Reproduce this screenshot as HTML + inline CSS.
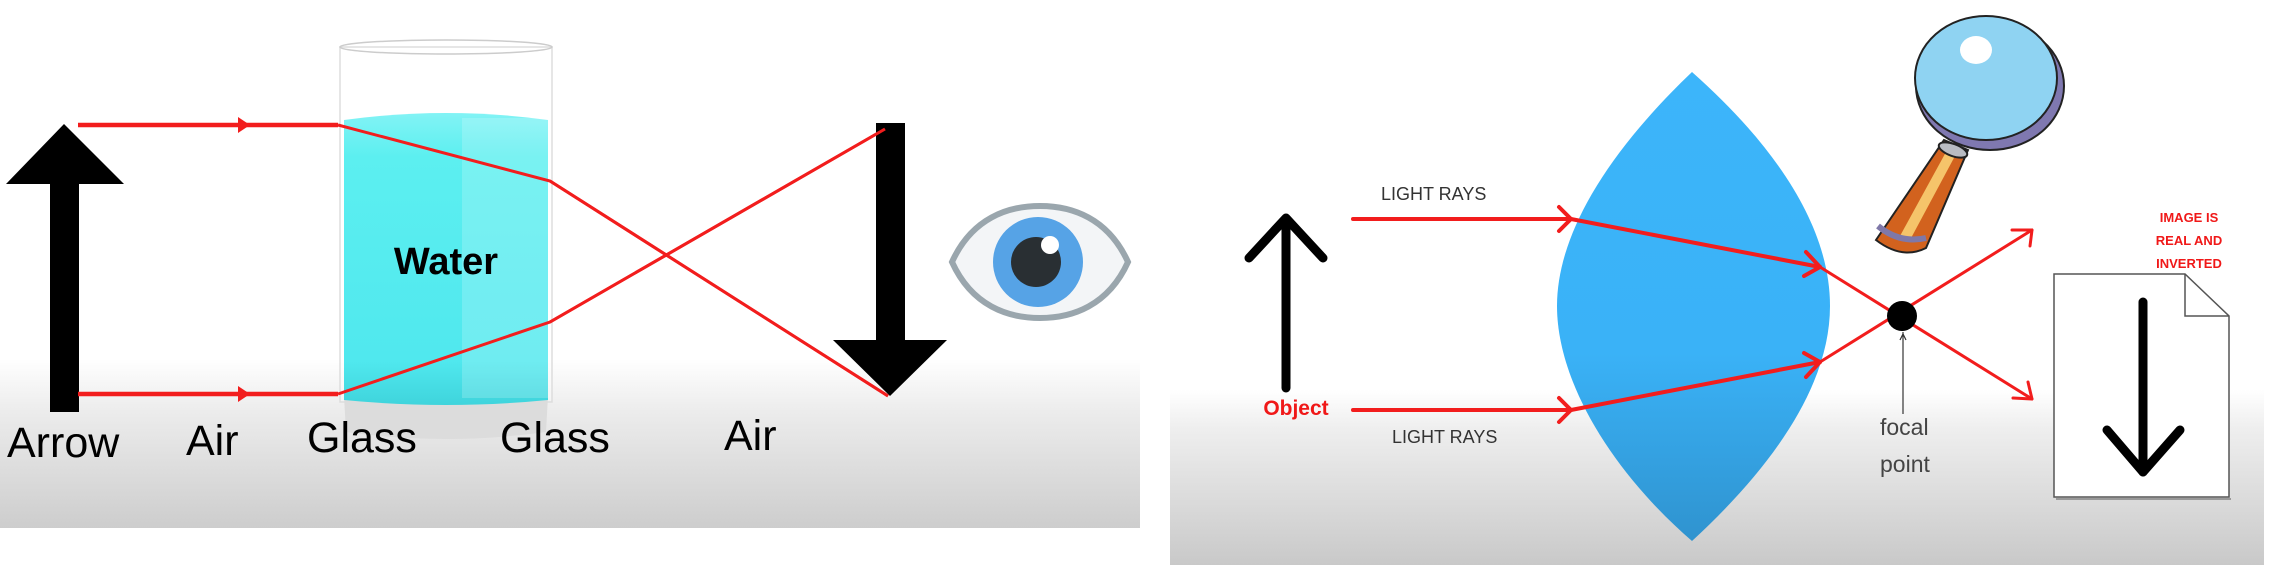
<!DOCTYPE html>
<html><head><meta charset="utf-8"><style>
html,body{margin:0;padding:0;background:#fff;width:2280px;height:574px;overflow:hidden}
svg{display:block}
</style></head><body>
<svg width="2280" height="574" viewBox="0 0 2280 574" xmlns="http://www.w3.org/2000/svg">
<defs>
<linearGradient id="bgL" x1="0" y1="0" x2="0" y2="1">
<stop offset="0" stop-color="#fff"/><stop offset="0.68" stop-color="#fff"/><stop offset="0.78" stop-color="#ececec"/><stop offset="1" stop-color="#cdcdcd"/>
</linearGradient>
<linearGradient id="bgR" x1="0" y1="0" x2="0" y2="1">
<stop offset="0" stop-color="#fff"/><stop offset="0.69" stop-color="#fff"/><stop offset="0.76" stop-color="#eeeeee"/><stop offset="1" stop-color="#c9c9c9"/>
</linearGradient>
<linearGradient id="lens" x1="0" y1="0" x2="0" y2="1">
<stop offset="0" stop-color="#3cb5fa"/><stop offset="0.6" stop-color="#3ab2f7"/><stop offset="1" stop-color="#2f93cf"/>
</linearGradient>
<linearGradient id="water" x1="0" y1="0" x2="0" y2="1">
<stop offset="0" stop-color="#82f3f5"/><stop offset="0.15" stop-color="#5ceff0"/><stop offset="0.85" stop-color="#50e8ee"/><stop offset="1" stop-color="#3fd4dc"/>
</linearGradient>
</defs>
<!-- Left panel -->
<rect x="0" y="0" width="1140" height="528" fill="url(#bgL)"/>
<rect x="340" y="47" width="212" height="355" fill="#fff" fill-opacity="0.3" stroke="#ddd" stroke-width="1.5"/>
<ellipse cx="446" cy="47" rx="106" ry="7" fill="none" stroke="#ccc" stroke-width="1.5"/>
<path d="M344 396 L548 396 L546 432 Q446 446 346 432 Z" fill="#dcdcdc"/>
<path d="M344 120 Q446 106 548 120 L548 400 Q446 410 344 400 Z" fill="url(#water)"/>
<rect x="462" y="118" width="86" height="280" fill="#fff" fill-opacity="0.18"/>
<text x="446" y="274" font-family="Liberation Sans, sans-serif" font-size="38" font-weight="bold" text-anchor="middle" fill="#000">Water</text>
<rect x="50" y="180" width="29" height="232" fill="#000"/>
<polygon points="64,124 124,184 6,184" fill="#000"/>
<g stroke="#f21d1d" fill="none">
<line x1="78" y1="125" x2="338" y2="125" stroke-width="4.5"/>
<line x1="78" y1="394" x2="338" y2="394" stroke-width="4.5"/>
<polyline points="338,125 550,181 888,396" stroke-width="3"/>
<polyline points="338,394 550,322 885,129" stroke-width="3"/>
</g>
<polygon points="238,117 250,125 238,133" fill="#f21d1d"/>
<polygon points="238,386 250,394 238,402" fill="#f21d1d"/>
<rect x="876" y="123" width="29" height="220" fill="#000"/>
<polygon points="833,340 947,340 890,396" fill="#000"/>
<line x1="550" y1="322" x2="885" y2="129" stroke="#f21d1d" stroke-width="3"/>
<line x1="550" y1="181" x2="888" y2="396" stroke="#f21d1d" stroke-width="3"/>
<!-- eye -->
<path d="M952 262 C972 218 1008 206 1040 206 C1072 206 1108 218 1128 262 C1108 306 1072 318 1040 318 C1008 318 972 306 952 262 Z" fill="#f3f5f7" stroke="#9aa6ad" stroke-width="6"/>
<circle cx="1038" cy="262" r="45" fill="#56a3e6"/>
<circle cx="1036" cy="262" r="25" fill="#292f33"/>
<circle cx="1050" cy="245" r="9" fill="#fff"/>
<g font-family="Liberation Sans, sans-serif" font-size="43" fill="#000">
<text x="7" y="457">Arrow</text>
<text x="186" y="455">Air</text>
<text x="307" y="452">Glass</text>
<text x="500" y="452">Glass</text>
<text x="724" y="450">Air</text>
</g>

<!-- Right panel -->
<rect x="1170" y="0" width="1094" height="565" fill="url(#bgR)"/>
<path d="M1692 72 C1600 160 1557 240 1557 306 C1557 380 1610 470 1692 541 C1780 460 1830 380 1830 306 C1830 230 1780 150 1692 72 Z" fill="url(#lens)"/>
<g stroke="#000" stroke-width="9" fill="none" stroke-linecap="round" stroke-linejoin="round">
<line x1="1286" y1="222" x2="1286" y2="388"/>
<polyline points="1249,258 1286,218 1323,258"/>
</g>
<text x="1296" y="415" font-family="Liberation Sans, sans-serif" font-size="21" font-weight="bold" fill="#f01818" text-anchor="middle">Object</text>
<g font-family="Liberation Sans, sans-serif" font-size="18" fill="#333">
<text x="1381" y="200">LIGHT RAYS</text>
<text x="1392" y="443">LIGHT RAYS</text>
</g>
<g stroke="#f21d1d" fill="none" stroke-width="4" stroke-linecap="round" stroke-linejoin="round">
<line x1="1353" y1="219" x2="1571" y2="219"/>
<line x1="1353" y1="410" x2="1571" y2="410"/>
<polyline points="1559,207 1571,219 1559,231"/>
<polyline points="1559,398 1571,410 1559,422"/>
<line x1="1571" y1="219" x2="1820" y2="267"/>
<line x1="1571" y1="410" x2="1820" y2="362"/>
<polyline points="1806,252 1820,267 1804,276"/>
<polyline points="1804,353 1820,362 1806,377"/>
</g>
<g stroke="#f21d1d" fill="none" stroke-width="3" stroke-linecap="round" stroke-linejoin="round">
<line x1="1820" y1="267" x2="2032" y2="399"/>
<line x1="1820" y1="362" x2="2032" y2="230"/>
<polyline points="2012,230 2032,230 2030,246"/>
<polyline points="2028,382 2032,399 2013,398"/>
</g>
<circle cx="1902" cy="316" r="15" fill="#000"/>
<line x1="1903" y1="332" x2="1903" y2="414" stroke="#333" stroke-width="1.2"/>
<polyline points="1900,340 1903,334 1906,340" stroke="#333" fill="none" stroke-width="1.2"/>
<g font-family="Liberation Sans, sans-serif" font-size="23" fill="#444">
<text x="1880" y="435">focal</text>
<text x="1880" y="472">point</text>
</g>
<g font-family="Liberation Sans, sans-serif" font-size="13" font-weight="bold" fill="#f01818" text-anchor="middle">
<text x="2189" y="222">IMAGE IS</text>
<text x="2189" y="245">REAL AND</text>
<text x="2189" y="268">INVERTED</text>
</g>
<path d="M2054 274 L2185 274 L2229 316 L2229 497 L2054 497 Z" fill="#fff" stroke="#555" stroke-width="1.5"/>
<path d="M2185 274 L2185 316 L2229 316" fill="none" stroke="#555" stroke-width="1.5"/>
<line x1="2056" y1="499" x2="2231" y2="499" stroke="#999" stroke-width="2"/>
<g stroke="#000" stroke-width="9" fill="none" stroke-linecap="round" stroke-linejoin="round">
<line x1="2143" y1="302" x2="2143" y2="472"/>
<polyline points="2107,430 2143,472 2180,430"/>
</g>
<!-- magnifier -->
<g stroke="#222" stroke-width="2">
<path d="M1944 140 L1968 150 L1926 248 Q1902 260 1876 240 Z" fill="#d2621e"/>
<path d="M1946 152 L1955 156 L1910 240 L1900 236 Z" fill="#f5c46a" stroke="none"/>
<path d="M1878 226 Q1900 244 1926 238" fill="none" stroke="#7f78a8" stroke-width="6"/>
<ellipse cx="1953" cy="150" rx="15" ry="6" fill="#b9bcc2" transform="rotate(20 1953 150)"/>
<ellipse cx="1990" cy="86" rx="74" ry="64" fill="#7f78b0"/>
<ellipse cx="1986" cy="78" rx="71" ry="62" fill="#8fd3f2"/>
</g>
<ellipse cx="1976" cy="50" rx="16" ry="14" fill="#fff"/>
</svg>
</body></html>
